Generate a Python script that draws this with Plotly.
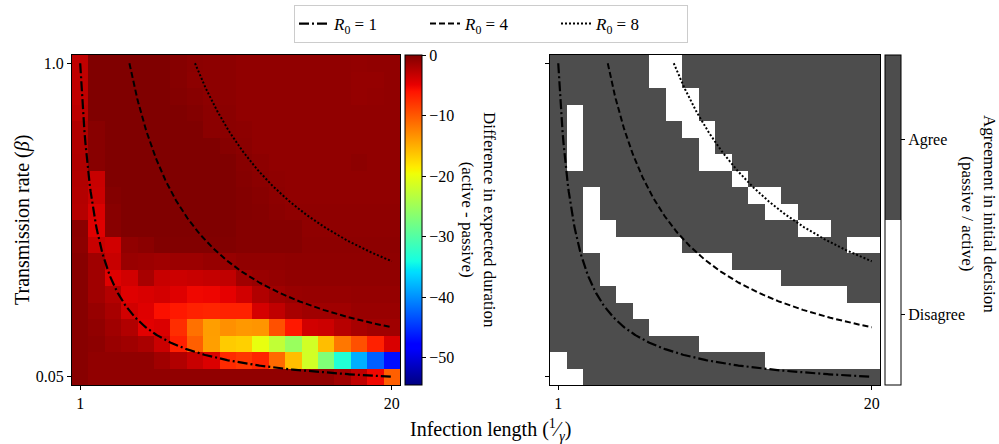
import numpy as np
import plotly.graph_objects as go

# Grid axes
infection_length = list(range(1, 21))
transmission_rate = [1.0, 0.95, 0.9, 0.85, 0.8, 0.75, 0.7, 0.65, 0.6, 0.55,
                     0.5, 0.45, 0.4, 0.35, 0.3, 0.25, 0.2, 0.15, 0.1, 0.05]

# Difference in expected duration (active - passive); rows follow transmission_rate
duration_diff = [
    [-3.0, 0, 0, 0, 0, 0, -0.3, -0.5, -0.6, -0.6, -0.8, -0.8, -0.8, -0.8, -0.8, -0.8, -0.8, -0.9, -0.8, -0.8],
    [-3.0, 0, 0, 0, 0, 0, -0.3, -0.6, -0.6, -0.6, -0.8, -0.8, -0.8, -0.8, -0.8, -0.8, -0.8, -1.0, -1.0, -0.8],
    [-3.0, 0, 0, 0, 0, 0, -0.2, -0.4, -0.6, -0.6, -0.8, -0.8, -0.8, -0.8, -0.8, -0.8, -0.8, -1.0, -0.9, -0.8],
    [-2.8, 0, 0, 0, 0, 0, 0, -0.2, -0.5, -0.5, -0.8, -0.8, -0.8, -0.8, -0.8, -0.8, -0.8, -0.8, -0.8, -0.8],
    [-2.3, -0.4, 0, 0, 0, 0, 0, 0, -0.5, -0.5, -0.6, -0.8, -0.8, -0.8, -0.8, -0.8, -0.8, -0.8, -0.8, -0.8],
    [-2.3, -0.4, 0, 0, 0, 0, 0, 0, 0, -0.3, -0.5, -0.8, -0.8, -0.8, -0.8, -0.8, -0.8, -0.8, -0.8, -0.8],
    [-2.2, -0.4, 0, 0, 0, 0, 0, 0, 0, 0, -0.4, -0.6, -0.8, -0.8, -0.8, -0.8, -0.8, -0.6, -0.8, -0.8],
    [-2.3, -3.4, 0, 0, 0, 0, 0, 0, 0, 0, -0.3, -0.5, -0.7, -0.8, -0.8, -0.8, -0.8, -0.8, -0.8, -0.8],
    [-2.4, -3.5, -0.2, 0, 0, 0, 0, 0, 0, 0, -0.2, -0.4, -0.6, -0.8, -0.8, -0.8, -0.8, -0.8, -0.8, -0.8],
    [-2.5, -4.2, -0.4, 0, 0, 0, 0, 0, 0, 0, -0.2, -0.3, -0.5, -0.7, -0.7, -0.7, -0.7, -0.7, -0.7, -0.7],
    [-0.5, -4.5, -0.4, 0, 0, 0, 0, 0, 0, 0, -0.3, -0.3, -0.3, -0.3, -0.7, -0.7, -0.7, -0.7, -0.7, -0.7],
    [-0.6, -3.4, -3.8, -0.8, -0.5, -0.1, -0.1, -0.1, -0.1, -0.1, -0.3, -0.3, -0.3, -0.3, -0.6, -0.6, -0.6, -0.6, -0.6, -0.6],
    [-0.4, -1.5, -3.4, -1.2, -1.3, -1.5, -1.3, -1.3, -1.1, -1.1, -0.8, -0.8, -0.8, -0.7, -0.7, -0.7, -0.7, -0.7, -0.7, -0.7],
    [-0.4, -1.5, -4.5, -3.8, -1.9, -3.4, -3.6, -3.4, -3.2, -3.0, -1.5, -1.2, -1.0, -0.8, -0.8, -0.8, -0.8, -0.8, -0.8, -0.8],
    [-0.4, -1.5, -2.4, -4.5, -4.2, -3.9, -4.5, -5.3, -5.2, -4.8, -3.8, -2.3, -1.5, -1.2, -1.1, -1.1, -1.1, -1.0, -1.0, -1.0],
    [-0.4, -1.1, -1.9, -3.8, -4.5, -5.8, -6.3, -6.8, -7.0, -6.8, -6.8, -4.0, -3.0, -1.9, -1.5, -1.5, -1.5, -1.2, -1.2, -1.2],
    [-0.4, -0.8, -1.5, -2.3, -4.6, -4.3, -7.5, -11.4, -14.0, -13.2, -13.7, -13.5, -9.5, -6.3, -3.8, -3.6, -2.6, -1.9, -1.5, -1.5],
    [-0.4, -0.6, -1.2, -1.5, -2.0, -3.5, -6.7, -10.4, -14.1, -16.6, -16.9, -20.1, -22.7, -25.3, -21.6, -15.9, -11.8, -9.5, -6.8, -4.2],
    [-0.4, -0.8, -0.8, -0.8, -0.8, -1.5, -2.3, -3.4, -4.3, -7.3, -8.0, -7.0, -11.0, -15.9, -21.6, -27.0, -33.3, -38.3, -42.6, -47.0],
    [-0.4, -0.8, -0.8, -0.8, -0.8, -0.8, -0.8, -0.8, -0.8, -0.8, -0.8, -0.8, -0.8, -0.8, -0.8, -0.8, -1.5, -3.0, -5.3, -10.4],
]

# Agreement in initial decision (1 = agree, 0 = disagree); rows follow transmission_rate
agreement = [
    [1, 1, 1, 1, 1, 1, 0, 0, 1, 1, 1, 1, 1, 1, 1, 1, 1, 1, 1, 1],
    [1, 1, 1, 1, 1, 1, 0, 0, 1, 1, 1, 1, 1, 1, 1, 1, 1, 1, 1, 1],
    [1, 1, 1, 1, 1, 1, 1, 0, 0, 1, 1, 1, 1, 1, 1, 1, 1, 1, 1, 1],
    [1, 0, 1, 1, 1, 1, 1, 0, 0, 1, 1, 1, 1, 1, 1, 1, 1, 1, 1, 1],
    [1, 0, 1, 1, 1, 1, 1, 1, 0, 0, 1, 1, 1, 1, 1, 1, 1, 1, 1, 1],
    [1, 0, 1, 1, 1, 1, 1, 1, 1, 0, 1, 1, 1, 1, 1, 1, 1, 1, 1, 1],
    [1, 0, 1, 1, 1, 1, 1, 1, 1, 0, 0, 1, 1, 1, 1, 1, 1, 1, 1, 1],
    [1, 1, 1, 1, 1, 1, 1, 1, 1, 1, 1, 0, 1, 1, 1, 1, 1, 1, 1, 1],
    [1, 1, 0, 1, 1, 1, 1, 1, 1, 1, 1, 1, 0, 0, 1, 1, 1, 1, 1, 1],
    [1, 1, 0, 1, 1, 1, 1, 1, 1, 1, 1, 1, 1, 0, 0, 1, 1, 1, 1, 1],
    [1, 1, 0, 0, 1, 1, 1, 1, 1, 1, 1, 1, 1, 1, 1, 0, 0, 1, 1, 1],
    [1, 1, 0, 0, 0, 0, 0, 0, 1, 1, 1, 1, 1, 1, 1, 1, 1, 1, 0, 0],
    [1, 1, 1, 0, 0, 0, 0, 0, 0, 0, 0, 1, 1, 1, 1, 1, 1, 1, 1, 1],
    [1, 1, 1, 0, 0, 0, 0, 0, 0, 0, 0, 0, 0, 0, 1, 1, 1, 1, 1, 1],
    [1, 1, 1, 1, 0, 0, 0, 0, 0, 0, 0, 0, 0, 0, 0, 0, 0, 0, 1, 1],
    [1, 1, 1, 1, 1, 0, 0, 0, 0, 0, 0, 0, 0, 0, 0, 0, 0, 0, 0, 0],
    [1, 1, 1, 1, 1, 1, 0, 0, 0, 0, 0, 0, 0, 0, 0, 0, 0, 0, 0, 0],
    [1, 1, 1, 1, 1, 1, 1, 1, 1, 0, 0, 0, 0, 0, 0, 0, 0, 0, 0, 0],
    [0, 1, 1, 1, 1, 1, 1, 1, 1, 1, 1, 1, 1, 0, 0, 0, 0, 0, 0, 0],
    [0, 0, 1, 1, 1, 1, 1, 1, 1, 1, 1, 1, 1, 1, 1, 1, 1, 1, 1, 1],
]

# Basic reproduction number contours (beta = R0 * gamma = R0 / length)
r0_levels = [1, 4, 8]
r0_dashes = ["10px,3px,2px,3px", "6px,3px", "2px,2px"]
r0_widths = [2.2, 2.0, 2.0]

diff_ticks = [0, -10, -20, -30, -40, -50]
diff_ticktext = ["0", "\u221210", "\u221220", "\u221230", "\u221240", "\u221250"]
agree_ticks = [0.745, 0.215]
agree_ticktext = ["Agree", "Disagree"]

FONT = "Liberation Serif"
W, H = 999, 444


def fx(px):
    return px / W


def fy(py):
    return 1 - py / H


# matplotlib-style "jet" colour map built from its piecewise-linear segments
_red = [(0, 0), (0.35, 0), (0.66, 1), (0.89, 1), (1, 0.5)]
_green = [(0, 0), (0.125, 0), (0.375, 1), (0.64, 1), (0.91, 0), (1, 0)]
_blue = [(0, 0.5), (0.11, 1), (0.34, 1), (0.65, 0), (1, 0)]
stops = sorted({p for seg in (_red, _green, _blue) for p, _ in seg})


def _chan(seg, t):
    xs, ys = zip(*seg)
    return float(np.interp(t, xs, ys))


jet = [[t, "rgb(%d,%d,%d)" % (round(255 * _chan(_red, t)),
                              round(255 * _chan(_green, t)),
                              round(255 * _chan(_blue, t)))] for t in stops]

gray = "#4d4d4d"
agree_scale = [[0, "white"], [0.5, "white"], [0.5, gray], [1, gray]]

beta_up = transmission_rate[::-1]
diff_up = duration_diff[::-1]
agree_up = agreement[::-1]

top, bottom = 55, 385
bar_len = (bottom - top) / H
bar_mid = fy((top + bottom) / 2)

fig = go.Figure()

fig.add_trace(go.Heatmap(
    x=infection_length, y=beta_up, z=diff_up,
    colorscale=jet, zmin=-54.5, zmax=0,
    xaxis="x", yaxis="y",
    colorbar=dict(
        x=fx(405), xanchor="left", y=bar_mid, yanchor="middle",
        len=bar_len, lenmode="fraction", thickness=17, thicknessmode="pixels",
        xpad=0, ypad=0, outlinewidth=1, outlinecolor="black",
        tickvals=diff_ticks, ticktext=diff_ticktext, ticks="outside",
        ticklen=4, tickcolor="black",
        tickfont=dict(family=FONT, size=16, color="black"),
    ),
    hoverinfo="skip",
))

fig.add_trace(go.Heatmap(
    x=infection_length, y=beta_up, z=agree_up,
    colorscale=agree_scale, zmin=0, zmax=1,
    xaxis="x2", yaxis="y2",
    colorbar=dict(
        x=fx(885), xanchor="left", y=bar_mid, yanchor="middle",
        len=bar_len, lenmode="fraction", thickness=16, thicknessmode="pixels",
        xpad=0, ypad=0, outlinewidth=1, outlinecolor="black",
        tickvals=agree_ticks, ticktext=agree_ticktext, ticks="outside",
        ticklen=4, tickcolor="black",
        tickfont=dict(family=FONT, size=16, color="black"),
    ),
    hoverinfo="skip",
))

for r0, dash, w in zip(r0_levels, r0_dashes, r0_widths):
    length = np.linspace(r0, 20, 300)
    beta = r0 / length
    for ax, show in (("", True), ("2", False)):
        fig.add_trace(go.Scatter(
            x=length, y=beta, mode="lines",
            line=dict(color="black", width=w, dash=dash),
            name="<i>R</i><sub>0</sub> = %d" % r0,
            showlegend=show, legendgroup=str(r0),
            xaxis="x" + ax, yaxis="y" + ax, hoverinfo="skip",
        ))

axis_common = dict(
    showline=True, linecolor="black", linewidth=1, mirror=True,
    showgrid=False, zeroline=False, ticks="outside", ticklen=4,
    tickcolor="black", tickfont=dict(family=FONT, size=16, color="black"),
)

fig.update_layout(
    width=W, height=H,
    margin=dict(l=0, r=0, t=0, b=0),
    paper_bgcolor="white", plot_bgcolor="white",
    font=dict(family=FONT, color="black"),
    xaxis=dict(domain=[fx(72), fx(400)], range=[0.5, 20.5],
               tickvals=[1, 20], anchor="y", **axis_common),
    yaxis=dict(domain=[fy(bottom), fy(top)], range=[0.025, 1.025],
               tickvals=[0.05, 1.0], ticktext=["0.05", "1.0"], anchor="x",
               **axis_common),
    xaxis2=dict(domain=[fx(550), fx(880)], range=[0.5, 20.5],
                tickvals=[1, 20], anchor="y2", **axis_common),
    yaxis2=dict(domain=[fy(bottom), fy(top)], range=[0.025, 1.025],
                tickvals=[0.05, 1.0], showticklabels=False, anchor="x2",
                **axis_common),
    legend=dict(
        orientation="h", x=fx(491), xanchor="center", y=fy(5), yanchor="top",
        bordercolor="#cccccc", borderwidth=1, bgcolor="white",
        font=dict(family=FONT, size=17, color="black"),
        entrywidth=86, entrywidthmode="pixels",
    ),
    annotations=[
        dict(text="Transmission rate (<i>\u03b2</i>)", x=fx(22), y=fy(220),
             xanchor="center", yanchor="middle",
             xref="paper", yref="paper", showarrow=False, textangle=-90,
             font=dict(family=FONT, size=20, color="black")),
        dict(text="Infection length (<sup>1</sup>\u2044<sub><i>\u03b3</i></sub>)",
             x=fx(490), y=fy(430), xanchor="center", yanchor="middle",
             xref="paper", yref="paper", showarrow=False,
             font=dict(family=FONT, size=20, color="black")),
        dict(text="Difference in expected duration<br>(active - passive)",
             x=fx(479), y=fy(220), xanchor="center", yanchor="middle",
             xref="paper", yref="paper", showarrow=False,
             textangle=90, font=dict(family=FONT, size=17, color="black")),
        dict(text="Agreement in initial decision<br>(passive / active)",
             x=fx(978), y=fy(214), xanchor="center", yanchor="middle",
             xref="paper", yref="paper", showarrow=False,
             textangle=90, font=dict(family=FONT, size=17, color="black")),
    ],
)

fig.write_html("out.html")
